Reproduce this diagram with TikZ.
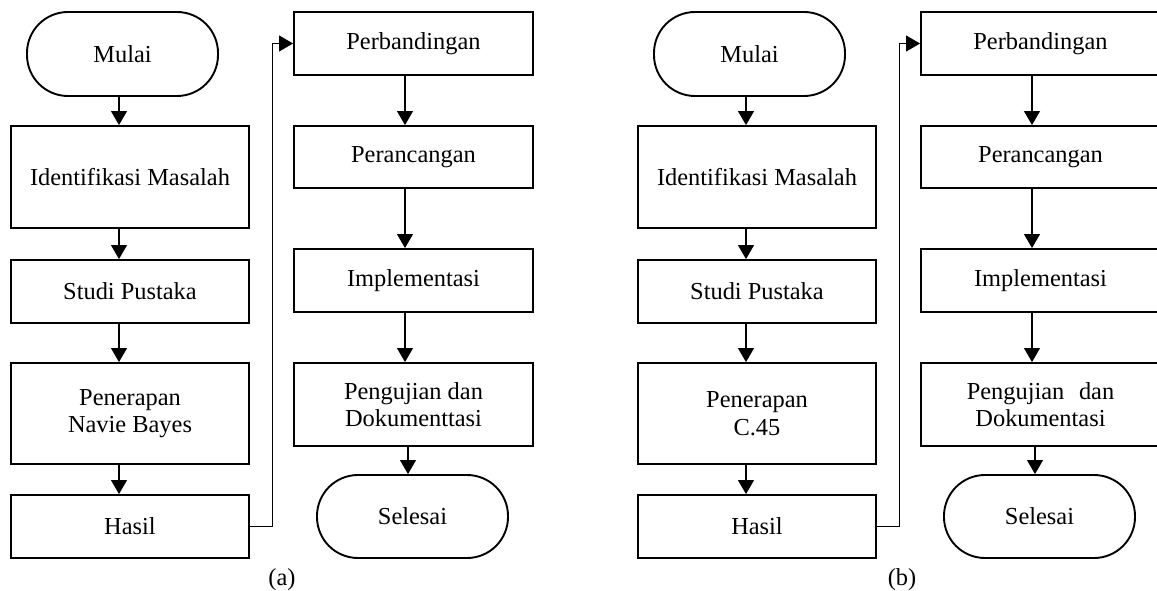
\documentclass[tikz,border=0pt]{standalone}
\usepackage{fontspec}
\setmainfont{Liberation Serif}
\usetikzlibrary{arrows.meta}
\begin{document}
\begin{tikzpicture}[x=1pt,y=-1pt,
  box/.style={draw, line width=1.9pt, inner sep=0pt, align=center, font=\fontsize{24.4}{27.5}\selectfont},
  lbox/.style={box, minimum width=238pt},
  rbox/.style={box, minimum width=239pt},
  term/.style={box, rounded corners=41pt, minimum width=191pt, minimum height=84pt},
  arr/.style={-{Triangle[width=16pt,length=14pt]}, line width=1.1pt},
  fb/.style={-{Triangle[width=16pt,length=14pt]}, line width=1pt},
  caplbl/.style={font=\fontsize{24.4}{27.5}\selectfont, inner sep=0pt, anchor=base}]
\useasboundingbox (0,0) rectangle (1157,591);
\clip (0,0) rectangle (1157,591);
% ---------- panel (a) ----------
\node[term] (aMul) at (122.5,54) {Mulai};
\node[lbox, minimum height=102pt] (aIde) at (130,177) {Identifikasi Masalah};
\node[lbox, minimum height=63pt] (aStu) at (130,291.5) {Studi Pustaka};
\node[lbox, minimum height=101pt] (aPen) at (130,413.5) {Penerapan\\Navie Bayes};
\node[lbox, minimum height=63pt] (aHas) at (130,526.5) {Hasil};
\node[rbox, minimum height=63pt] (aPer) at (413.5,43.5) {Perbandingan};
\node[rbox, minimum height=62pt] (aRan) at (413.5,157) {Perancangan};
\node[rbox, minimum height=63pt] (aImp) at (413.5,280.5) {Implementasi};
\node[rbox, minimum height=83pt] (aUji) at (413.5,404.5) {Pengujian dan\\Dokumenttasi};
\node[term, minimum height=83pt] (aSel) at (412.5,516.5) {Selesai};
\node[caplbl] (aCap) at (282,585) {(a)};
\coordinate (aL) at (119,0);
\coordinate (aR) at (405,0);
\coordinate (aR2) at (408,0);
\coordinate (aTurn) at (272,526.5);
\draw[arr] (aMul.south -| aL) -- (aIde.north -| aL);
\draw[arr] (aIde.south -| aL) -- (aStu.north -| aL);
\draw[arr] (aStu.south -| aL) -- (aPen.north -| aL);
\draw[arr] (aPen.south -| aL) -- (aHas.north -| aL);
\draw[arr] (aPer.south -| aR) -- (aRan.north -| aR);
\draw[arr] (aRan.south -| aR) -- (aImp.north -| aR);
\draw[arr] (aImp.south -| aR) -- (aUji.north -| aR);
\draw[arr] (aUji.south -| aR2) -- (aSel.north -| aR2);
\draw[fb] (aHas.east) -- (aTurn) |- (aPer.west);
% ---------- panel (b) ----------
\node[term] (bMul) at (749.5,54) {Mulai};
\node[lbox, minimum height=102pt] (bIde) at (757,177) {Identifikasi Masalah};
\node[lbox, minimum height=63pt] (bStu) at (757,291.5) {Studi Pustaka};
\node[lbox, minimum height=101pt] (bPen) at (757,413.5) {Penerapan\\C.45};
\node[lbox, minimum height=63pt] (bHas) at (757,526.5) {Hasil};
\node[rbox, minimum height=63pt] (bPer) at (1040.5,43.5) {Perbandingan};
\node[rbox, minimum height=62pt] (bRan) at (1040.5,157) {Perancangan};
\node[rbox, minimum height=63pt] (bImp) at (1040.5,280.5) {Implementasi};
\node[rbox, minimum height=83pt] (bUji) at (1040.5,404.5) {Pengujian\hspace{0.6em}dan\\Dokumentasi};
\node[term, minimum height=83pt] (bSel) at (1039.5,516.5) {Selesai};
\node[caplbl] (bCap) at (902,585) {(b)};
\coordinate (bL) at (746,0);
\coordinate (bR) at (1032,0);
\coordinate (bR2) at (1035,0);
\coordinate (bTurn) at (899,526.5);
\draw[arr] (bMul.south -| bL) -- (bIde.north -| bL);
\draw[arr] (bIde.south -| bL) -- (bStu.north -| bL);
\draw[arr] (bStu.south -| bL) -- (bPen.north -| bL);
\draw[arr] (bPen.south -| bL) -- (bHas.north -| bL);
\draw[arr] (bPer.south -| bR) -- (bRan.north -| bR);
\draw[arr] (bRan.south -| bR) -- (bImp.north -| bR);
\draw[arr] (bImp.south -| bR) -- (bUji.north -| bR);
\draw[arr] (bUji.south -| bR2) -- (bSel.north -| bR2);
\draw[fb] (bHas.east) -- (bTurn) |- (bPer.west);
\end{tikzpicture}
\end{document}
